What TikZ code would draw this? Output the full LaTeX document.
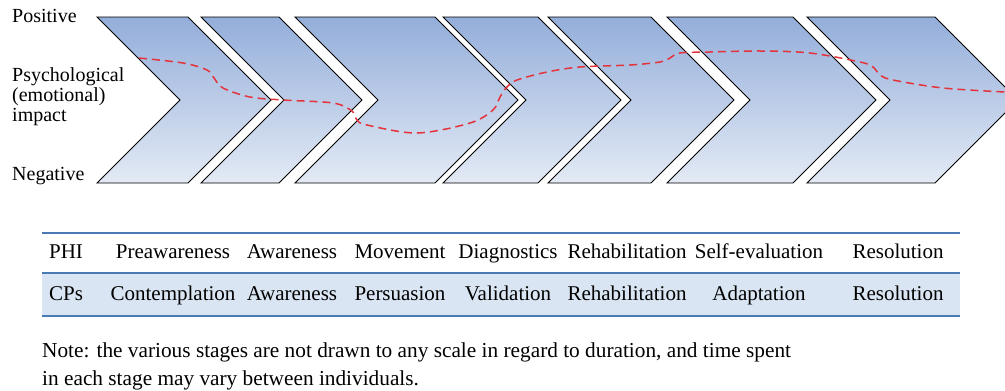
\documentclass[tikz,border=0pt]{standalone}
\usepackage{fontspec}
\setmainfont{Liberation Serif}
\usetikzlibrary{positioning}
\definecolor{ctop}{HTML}{94AEDA}
\definecolor{cbot}{HTML}{E3EAF5}
\definecolor{cred}{HTML}{E5333B}
\definecolor{crule}{HTML}{4A7AB5}
\definecolor{crow}{HTML}{D9E5F2}
\tikzset{
  chev/.style={draw=black, line width=0.9pt, top color=ctop, bottom color=cbot, line join=miter},
  impact/.style={draw=cred, line width=1.5pt, dash pattern=on 8pt off 5pt},
  side/.style={font=\fontsize{20}{20}\selectfont, inner sep=0pt},
  cell/.style={font=\fontsize{21}{25}\selectfont, anchor=base, inner sep=0pt},
  tabrule/.style={draw=crule, line width=1.5pt},
  note/.style={font=\fontsize{21.3}{27}\selectfont, anchor=base west, inner sep=0pt},
}
\newcommand{\chevron}[2]{% #1 = top-left x, #2 = top-right x; point depth 83
  \draw[chev] (#1,17) -- (#2,17) -- (#2+83,100) -- (#2,183) -- (#1,183) -- (#1+83,100) -- cycle;}

\begin{document}
\begin{tikzpicture}[x=1pt, y=-1pt]
  \useasboundingbox (0,0) rectangle (1005,391);
  % stages
  \foreach \l/\r in {97/188, 201/279, 295/435, 443/538, 548/651, 667/793, 807/935} {
    \chevron{\l}{\r} }
  % emotional impact
  \draw[impact] plot[smooth, tension=0.55] coordinates {(139,58) (183,63) (207,70) (214,78) (223,88)
    (250,97) (283,100) (333,103) (352,111) (357,120) (367,125) (417,133) (470,123) (493,110)
    (500,97) (507,87) (517,80) (547,72) (580,67) (630,65) (660,62) (670,58) (680,53) (710,52)
    (760,51) (810,53) (860,62) (873,67) (880,75) (893,80) (943,88) (1005,92)};
  % axis labels
  \node[side, anchor=base west] (pos) at (12,22) {Positive};
  \node[side, anchor=west, align=left] (psy) at (12,97) {Psychological\\(emotional)\\impact};
  \node[side, anchor=base west] (neg) at (12,180) {Negative};
  % table
  \fill[crow] (42,273) rectangle (960,316);
  \foreach \y in {233,273,316} { \draw[tabrule] (42,\y) -- (960,\y); }
  \foreach \x/\a/\b [count=\i] in {66/PHI/CPs, 173/Preawareness/Contemplation, 292/Awareness/Awareness,
    400/Movement/Persuasion, 508/Diagnostics/Validation, 627/Rehabilitation/Rehabilitation,
    759/Self-evaluation/Adaptation, 898/Resolution/Resolution} {
    \node[cell] (phi-\i) at (\x,258) {\a};
    \node[cell] (cp-\i) at (\x,300) {\b};
  }
  % note
  \node[note] (note1) at (42,357) {Note: the various stages are not drawn to any scale in regard to duration, and time spent};
  \node[note] (note2) at (42,385) {in each stage may vary between individuals.};
\end{tikzpicture}
\end{document}
